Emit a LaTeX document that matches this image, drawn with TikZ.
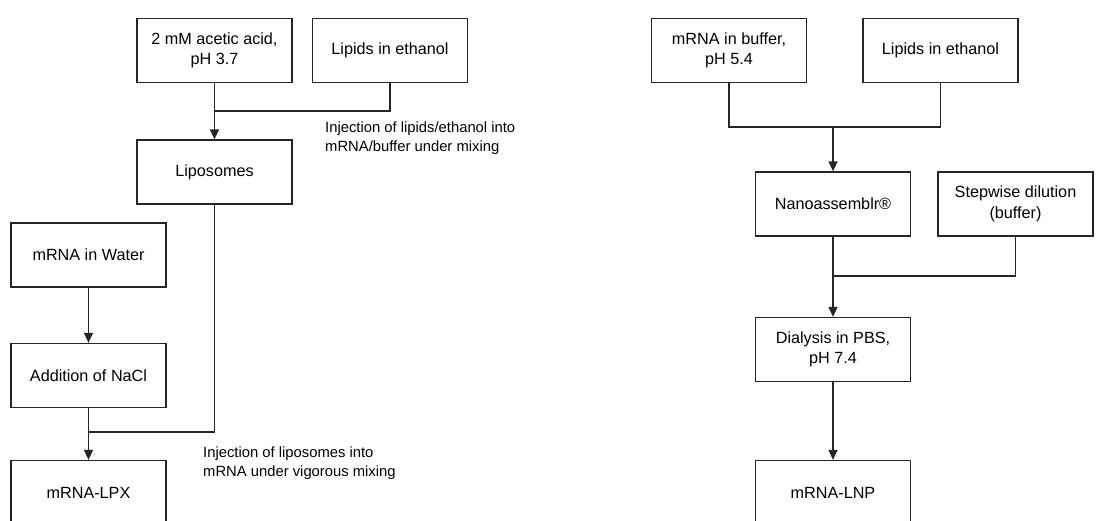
\documentclass[tikz,border=0pt]{standalone}
\usepackage{fontspec}
\setmainfont{Liberation Sans}
\usetikzlibrary{arrows.meta}
\begin{document}
\begin{tikzpicture}[x=1pt,y=-1pt,
  box/.style={draw=black!85,line width=1.3pt,minimum width=155pt,minimum height=64pt,
    align=center,font=\fontsize{16.2}{20.5}\selectfont,inner sep=2pt},
  conn/.style={draw=black!85,line width=1.3pt},
  arr/.style={conn,-{Triangle[length=10pt,width=9pt]}},
  lbl/.style={align=left,anchor=west,font=\fontsize{14.8}{19.5}\selectfont,inner sep=0pt}]
\useasboundingbox (0,0) rectangle (1119,520);
% left diagram
\node[box] (acid) at (214.5,50.5) {2 mM acetic acid,\\pH 3.7};
\node[box] (lipL) at (390,50.5) {Lipids in ethanol};
\node[box] (lipo) at (214.5,172) {Liposomes};
\node[box] (water) at (88.5,255) {mRNA in Water};
\node[box] (nacl) at (88.5,375.5) {Addition of NaCl};
\node[box] (lpx) at (88.5,492.5) {mRNA-LPX};
\coordinate (j1) at (214.5,111);
\coordinate (j2) at (88.5,432);
\draw[conn] (acid.south) -- (j1);
\draw[conn] (lipL.south) |- (j1);
\draw[arr] (j1) -- (lipo.north);
\draw[conn] (lipo.south) |- (j2);
\draw[arr] (water.south) -- (nacl.north);
\draw[conn] (nacl.south) -- (j2);
\draw[arr] (j2) -- (lpx.north);
\node[lbl] (l1) at (325,138) {Injection of lipids/ethanol into\\mRNA/buffer under mixing};
\node[lbl] (l2) at (203,463) {Injection of liposomes into\\mRNA under vigorous mixing};
% right diagram
\node[box] (buf) at (729,50.5) {mRNA in buffer,\\pH 5.4};
\node[box] (lipR) at (940.5,50.5) {Lipids in ethanol};
\node[box] (nano) at (833,204) {Nanoassemblr®};
\node[box] (step) at (1015.5,204) {Stepwise dilution\\(buffer)};
\node[box] (dial) at (833,349.5) {Dialysis in PBS,\\pH 7.4};
\node[box] (lnp) at (833,492.5) {mRNA-LNP};
\coordinate (j3) at (833,127);
\coordinate (j4) at (833,276);
\draw[conn] (buf.south) |- (j3);
\draw[conn] (lipR.south) |- (j3);
\draw[arr] (j3) -- (nano.north);
\draw[conn] (nano.south) -- (j4);
\draw[conn] (step.south) |- (j4);
\draw[arr] (j4) -- (dial.north);
\draw[arr] (dial.south) -- (lnp.north);
\end{tikzpicture}
\end{document}
